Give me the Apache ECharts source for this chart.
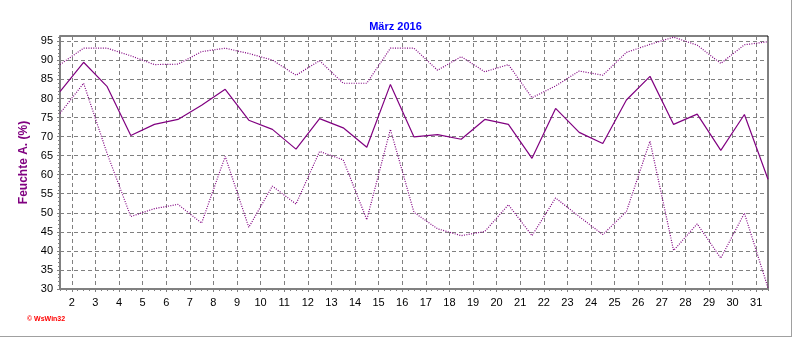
<!DOCTYPE html>
<html>
<head>
<meta charset="utf-8">
<script src="https://cdn.jsdelivr.net/npm/echarts@6/dist/echarts.min.js"></script>
<style>
  html, body { margin: 0; padding: 0; background: #fff; }
  #wrap { width: 792px; height: 337px; box-sizing: border-box; border-right: 1px solid #a0a0a0; border-bottom: 1px solid #a0a0a0; background: #fff; }
  #chart { width: 791px; height: 336px; }
</style>
</head>
<body>
<div id="wrap"><div id="chart"></div></div>
<script>
// Days of March 2016 (values plotted at the middle of each day)
const days = [1, 2, 3, 4, 5, 6, 7, 8, 9, 10, 11, 12, 13, 14, 15, 16, 17, 18, 19, 20, 21, 22, 23, 24, 25, 26, 27, 28, 29, 30, 31];
// Mean relative humidity (%)
const humMean = [81.8, 89.5, 83.1, 70.3, 73.2, 74.5, 78.2, 82.4, 74.3, 71.9, 66.7, 74.7, 72.3, 67.2, 83.7, 69.9, 70.5, 69.3, 74.5, 73.2, 64.3, 77.4, 71.1, 68.2, 79.6, 85.8, 73.2, 75.9, 66.4, 75.8, 58.8];
// Daily maximum humidity (%)
const humMax = [88.9, 93.2, 93.2, 91.2, 88.9, 89.0, 92.3, 93.2, 91.8, 90.1, 86.1, 89.9, 84.0, 84.0, 93.2, 93.2, 87.4, 91.0, 87.0, 88.9, 80.2, 83.3, 87.2, 86.1, 92.1, 94.2, 96.1, 94.0, 89.2, 94.1, 94.9];
// Daily minimum humidity (%)
const humMin = [76.1, 84.0, 65.5, 49.0, 51.1, 52.2, 47.3, 64.8, 46.2, 57.0, 52.3, 66.1, 63.9, 48.2, 71.9, 50.1, 45.8, 44.0, 45.1, 52.1, 44.0, 53.9, 49.0, 44.3, 50.3, 68.8, 40.1, 47.1, 38.1, 49.9, 30.3];
// X tick labels (days)
const xTicks = [2, 3, 4, 5, 6, 7, 8, 9, 10, 11, 12, 13, 14, 15, 16, 17, 18, 19, 20, 21, 22, 23, 24, 25, 26, 27, 28, 29, 30, 31];
// Y tick labels
const yTicks = [30, 35, 40, 45, 50, 55, 60, 65, 70, 75, 80, 85, 90, 95];

const midDay = 0.5;
const pairs = vals => days.map((d, i) => [d + midDay, vals[i]]);

const FONT = '"Liberation Sans", Arial, sans-serif';
const PURPLE = '#800080';
const GRIDC = '#808080';

const chart = echarts.init(document.getElementById('chart'), null, { renderer: 'canvas' });
chart.setOption({
  animation: false,
  backgroundColor: '#fff',
  title: {
    text: 'März 2016',
    left: 'center',
    top: 16,
    textStyle: { color: '#0000ff', fontSize: 11, fontWeight: 'bold', fontFamily: FONT }
  },
  grid: {
    left: 60, right: 23, top: 36, bottom: 47,
    show: true, borderColor: '#000', borderWidth: 1, backgroundColor: '#fff'
  },
  xAxis: [{
    type: 'value',
    min: 1.5,
    max: 31.5,
    axisLine: { show: true, onZero: false, lineStyle: { color: GRIDC, width: 2 } },
    axisTick: { show: true, customValues: xTicks, length: 3, lineStyle: { color: GRIDC } },
    axisLabel: { customValues: xTicks, color: '#000', fontSize: 11, fontFamily: FONT, margin: 8 },
    splitLine: { show: true, lineStyle: { color: GRIDC, type: [4, 3], width: 1 } },
    minorTick: { show: false }
  }, {
    type: 'value',
    position: 'bottom',
    min: 1.5, max: 31.5, interval: 0.25,
    axisLine: { show: false },
    axisTick: { show: true, length: 2, inside: false, lineStyle: { color: GRIDC } },
    axisLabel: { show: false },
    splitLine: { show: false }
  }],
  yAxis: {
    type: 'value',
    min: 30, max: 96.4, interval: 5,
    name: 'Feuchte A. (%)',
    nameLocation: 'middle',
    nameGap: 28,
    nameTextStyle: { color: PURPLE, fontSize: 12, fontWeight: 'bold', fontFamily: FONT },
    axisLine: { show: true, onZero: false, lineStyle: { color: GRIDC, width: 2 } },
    axisTick: { show: true, customValues: yTicks, length: 3, lineStyle: { color: GRIDC } },
    minorTick: { show: true, splitNumber: 5, length: 2, lineStyle: { color: GRIDC } },
    axisLabel: { customValues: yTicks, color: '#000', fontSize: 11, fontFamily: FONT, margin: 7 },
    splitLine: { show: true, lineStyle: { color: GRIDC, type: [4, 3], width: 1 } }
  },
  graphic: [{
    type: 'text',
    left: 27, top: 316,
    style: { text: '© WsWin32', fill: '#ff0000', font: 'bold 7px ' + FONT }
  }],
  series: [{
    name: 'Max', type: 'line', data: pairs(humMax), showSymbol: false, silent: true,
    lineStyle: { color: PURPLE, width: 1.2, type: [1, 1.4] }
  }, {
    name: 'Mittel', type: 'line', data: pairs(humMean), showSymbol: false, silent: true,
    lineStyle: { color: PURPLE, width: 1.2 }
  }, {
    name: 'Min', type: 'line', data: pairs(humMin), showSymbol: false, silent: true,
    lineStyle: { color: PURPLE, width: 1.2, type: [1, 1.4] }
  }]
});
</script>
</body>
</html>
